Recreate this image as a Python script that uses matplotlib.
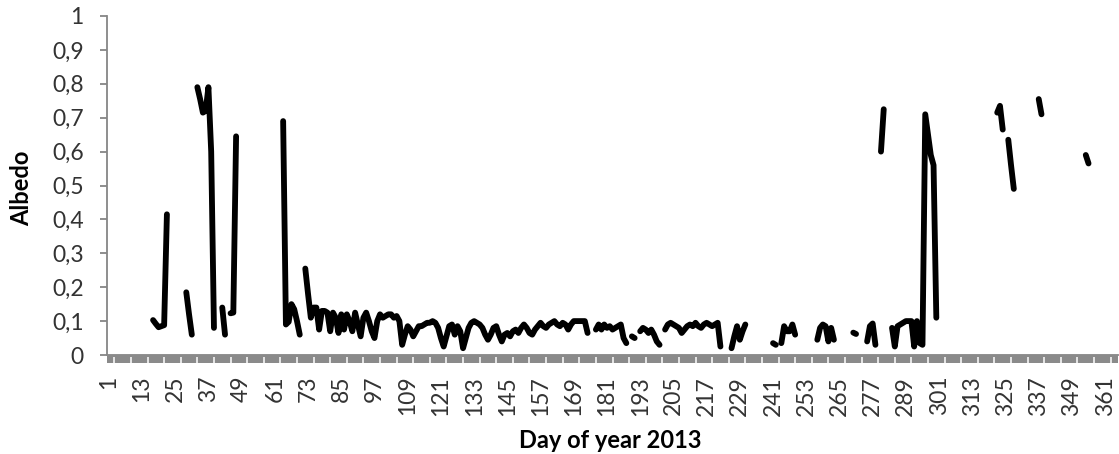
import numpy as np
import matplotlib
matplotlib.use("Agg")
import matplotlib.pyplot as plt
from matplotlib.ticker import FixedLocator, FuncFormatter

# ---------------- data ----------------
days = np.arange(1, 366)

seg_starts = [17, 29, 33, 42, 45, 64, 72, 177, 190, 193, 202, 226, 241, 244,
              257, 270, 275, 280, 284, 322, 326, 337, 354]

seg_values = [
    [0.103, 0.092, 0.082, 0.085, 0.088, 0.415],
    [0.185, 0.12, 0.06],
    [0.79, 0.755, 0.715, 0.72, 0.79, 0.60, 0.08],
    [0.14, 0.06],
    [0.123, 0.125, 0.645],
    [0.69, 0.09, 0.098, 0.15, 0.135, 0.10, 0.06],
    [0.255, 0.18, 0.11, 0.14, 0.14, 0.075, 0.13, 0.13, 0.125, 0.07,      # 72-81
     0.125, 0.11, 0.065, 0.12, 0.075, 0.12, 0.10, 0.07, 0.125, 0.09,     # 82-91
     0.055, 0.11, 0.125, 0.10, 0.07, 0.05, 0.10, 0.12, 0.11, 0.115,      # 92-101
     0.12, 0.12, 0.11, 0.115, 0.10, 0.03, 0.06, 0.085, 0.075, 0.055,     # 102-111
     0.07, 0.085, 0.085, 0.09, 0.095, 0.095, 0.10, 0.095, 0.08, 0.05,    # 112-121
     0.025, 0.055, 0.085, 0.09, 0.06, 0.085, 0.07, 0.02, 0.05, 0.08,     # 122-131
     0.095, 0.10, 0.095, 0.09, 0.08, 0.06, 0.045, 0.06, 0.08, 0.085,     # 132-141
     0.06, 0.04, 0.06, 0.065, 0.055, 0.07, 0.075, 0.065, 0.08, 0.09,     # 142-151
     0.08, 0.065, 0.06, 0.075, 0.085, 0.095, 0.085, 0.08, 0.09, 0.095,   # 152-161
     0.10, 0.09, 0.085, 0.095, 0.09, 0.075, 0.09, 0.10, 0.10, 0.10,      # 162-171
     0.10, 0.10, 0.065],                                                 # 172-174
    [0.075, 0.09, 0.075, 0.09, 0.08, 0.085, 0.075, 0.08, 0.085, 0.09, 0.05, 0.035],
    [0.055, 0.05],
    [0.07, 0.08, 0.075, 0.065, 0.075, 0.06, 0.04, 0.03],
    [0.075, 0.09, 0.095, 0.09, 0.085, 0.08, 0.065, 0.075, 0.085, 0.09, 0.085,
     0.095, 0.085, 0.08, 0.09, 0.095, 0.09, 0.085, 0.09, 0.095, 0.025],
    [0.02, 0.055, 0.085, 0.045, 0.07, 0.09],
    [0.035, 0.03],
    [0.035, 0.085, 0.07, 0.07, 0.09, 0.06],
    [0.045, 0.08, 0.09, 0.085, 0.04, 0.08, 0.045],
    [0.066, 0.062],
    [0.04, 0.085, 0.093, 0.03],
    [0.60, 0.725],
    [0.08, 0.025, 0.085, 0.09, 0.095, 0.10, 0.10, 0.10, 0.025, 0.10, 0.035, 0.03,
     0.71, 0.65, 0.59, 0.56, 0.11],
    [0.715, 0.735, 0.665],
    [0.635, 0.56, 0.49],
    [0.755, 0.71],
    [0.59, 0.565],
]

x_tick_labels = [str(d) for d in range(1, 366, 12)]
y_ticks = [0, 0.1, 0.2, 0.3, 0.4, 0.5, 0.6, 0.7, 0.8, 0.9, 1.0]

albedo = np.full(days.shape, np.nan)
for start, vals in zip(seg_starts, seg_values):
    albedo[start - 1:start - 1 + len(vals)] = vals

# ---------------- figure ----------------
plt.rcParams['font.family'] = ['Lato', 'DejaVu Sans']
W, H = 1119, 454
fig = plt.figure(figsize=(W / 100, H / 100), dpi=100)
left_px, right_px, top_px, bottom_px = 107.4, 1117.6, 16, 355
ax = fig.add_axes([left_px / W, 1 - bottom_px / H,
                   (right_px - left_px) / W, (bottom_px - top_px) / H])

ax.plot(days, albedo, color='black', lw=4.2,
        solid_capstyle='round', solid_joinstyle='round', zorder=3)

ax.set_xlim(0.5, 365.5)
ax.set_ylim(0, 1)

grey = '#868686'
for s in ['top', 'right']:
    ax.spines[s].set_visible(False)
for s in ['left', 'bottom']:
    ax.spines[s].set_color(grey)
    ax.spines[s].set_linewidth(1.3)

ax.xaxis.set_major_locator(FixedLocator(list(range(1, 366, 12))))
ax.set_xticklabels(x_tick_labels)
ax.tick_params(axis='x', which='major', length=0, pad=15, labelsize=16.5,
               labelrotation=90, labelcolor='#333333')

# grey axis band with white separators (Excel-style dense tick marks)
ax.axhspan(-0.0236, 0, color='#8a8a8a', lw=0, clip_on=False, zorder=4)
ax.vlines(np.arange(3, 366, 6), -0.0236, -0.006, colors='white', lw=1.1,
          clip_on=False, zorder=5)

ax.set_yticks(y_ticks)
ax.yaxis.set_major_formatter(FuncFormatter(
    lambda v, p: ('%g' % round(v, 1)).replace('.', ',')))
ax.tick_params(axis='y', which='major', length=5, width=1.3, color=grey,
               pad=12, labelsize=16.5, labelcolor='#333333')

fig.text(610 / W, 1 - 440 / H, 'Day of year 2013', ha='center', va='center',
         fontsize=17, fontweight='bold', color='black')
fig.text(22 / W, 1 - 188 / H, 'Albedo', ha='center', va='center',
         fontsize=17, fontweight='bold', rotation=90, color='black')

fig.savefig('out.png', dpi=100, facecolor='white')
